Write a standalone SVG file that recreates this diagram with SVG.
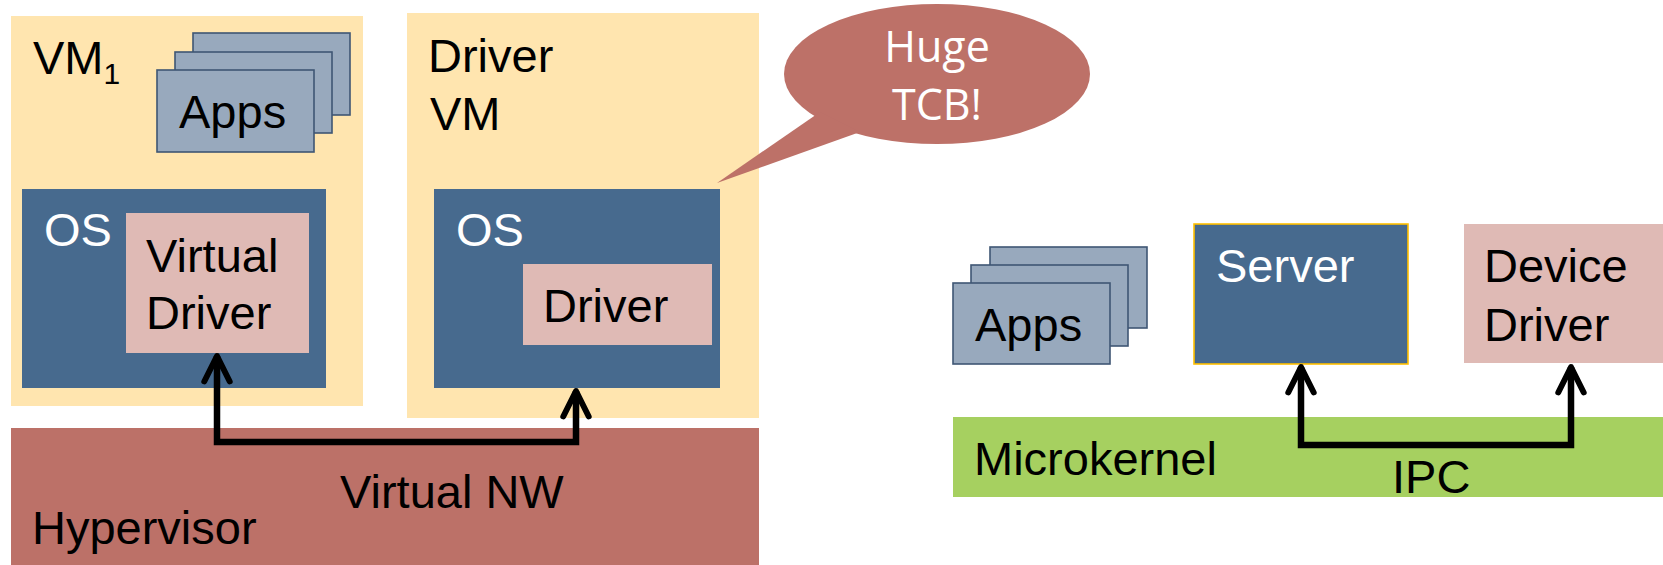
<svg xmlns="http://www.w3.org/2000/svg" width="1663" height="565" viewBox="0 0 1663 565">
  <style>
    text { font-family: "Liberation Sans", Arial, sans-serif; font-size: 47px; fill: #000; }
    .light { fill: #fff; }
    .bubbletext { font-family: "Open Sans", "Noto Sans", sans-serif; font-size: 43px; fill: #fff; text-anchor: middle; }
    .vm { fill: #FFE5AF; }
    .os { fill: #476A8E; }
    .drv { fill: #DFBAB5; }
    .app { fill: #98A9BD; stroke: #3F5674; stroke-width: 1.6; }
    .hyp { fill: #BC7168; }
    .mk { fill: #A6D060; }
    .wire { fill: none; stroke: #000; stroke-width: 6.5; stroke-linejoin: miter; }
  </style>
  <defs>
    <marker id="chevron" markerUnits="userSpaceOnUse" markerWidth="40" markerHeight="40" viewBox="-40 -20 44 40" refX="0" refY="0" orient="auto-start-reverse" overflow="visible">
      <path d="M-28,-14 L0,0 L-28,14" fill="none" stroke="#000" stroke-width="6.5" stroke-linecap="round" stroke-linejoin="round"/>
    </marker>
  </defs>

  <!-- Left: hypervisor based stack -->
  <g id="hypervisor">
    <rect class="hyp" x="11" y="428" width="748" height="137"/>
    <text x="32" y="544">Hypervisor</text>
    <text x="340" y="508">Virtual NW</text>
  </g>

  <g id="vm1">
    <rect class="vm" x="11" y="16" width="352" height="390"/>
    <text x="33" y="74">VM<tspan dy="10" font-size="30">1</tspan></text>
  </g>

  <g id="vm1-apps">
    <rect class="app" x="193" y="33" width="157" height="82"/>
    <rect class="app" x="175" y="52" width="157" height="81"/>
    <rect class="app" x="157" y="70" width="157" height="82"/>
    <text x="179" y="128">Apps</text>
  </g>

  <g id="vm1-os">
    <rect class="os" x="22" y="189" width="304" height="199"/>
    <text class="light" x="44" y="246">OS</text>
  </g>

  <g id="virtual-driver">
    <rect class="drv" x="126" y="213" width="183" height="140"/>
    <text x="146" y="272">Virtual</text>
    <text x="146" y="329">Driver</text>
  </g>

  <g id="driver-vm">
    <rect class="vm" x="407" y="13" width="352" height="405"/>
    <text x="428" y="72">Driver</text>
    <text x="430" y="130">VM</text>
  </g>

  <g id="driver-vm-os">
    <rect class="os" x="434" y="189" width="286" height="199"/>
    <text class="light" x="456" y="246">OS</text>
  </g>

  <g id="driver">
    <rect class="drv" x="523" y="264" width="189" height="81"/>
    <text x="543" y="322">Driver</text>
  </g>

  <g id="tcb-callout">
    <ellipse cx="937" cy="74" rx="153" ry="70" fill="#BD7168"/>
    <polygon points="820,112 717,183 860,132" fill="#BD7168"/>
    <text class="bubbletext" x="937" y="62">Huge</text>
    <text class="bubbletext" x="937" y="120">TCB!</text>
  </g>

  <!-- Right: microkernel based stack -->
  <g id="microkernel">
    <rect class="mk" x="953" y="417" width="710" height="80"/>
    <text x="974" y="475">Microkernel</text>
    <text x="1392" y="493">IPC</text>
  </g>

  <g id="apps">
    <rect class="app" x="990" y="247" width="157" height="81"/>
    <rect class="app" x="971" y="265" width="157" height="81"/>
    <rect class="app" x="953" y="283" width="157" height="81"/>
    <text x="975" y="341">Apps</text>
  </g>

  <g id="server">
    <rect class="os" x="1194" y="224" width="214" height="140" stroke="#FFC000" stroke-width="1.6"/>
    <text class="light" x="1216" y="282">Server</text>
  </g>

  <g id="device-driver">
    <rect class="drv" x="1464" y="224" width="199" height="139"/>
    <text x="1484" y="282">Device</text>
    <text x="1484" y="341">Driver</text>
  </g>

  <!-- Connectors -->
  <g id="connectors">
    <path class="wire" d="M217,356 V442 H576 V391" marker-start="url(#chevron)" marker-end="url(#chevron)"/>
    <path class="wire" d="M1301,367 V445 H1571 V367" marker-start="url(#chevron)" marker-end="url(#chevron)"/>
  </g>
</svg>
